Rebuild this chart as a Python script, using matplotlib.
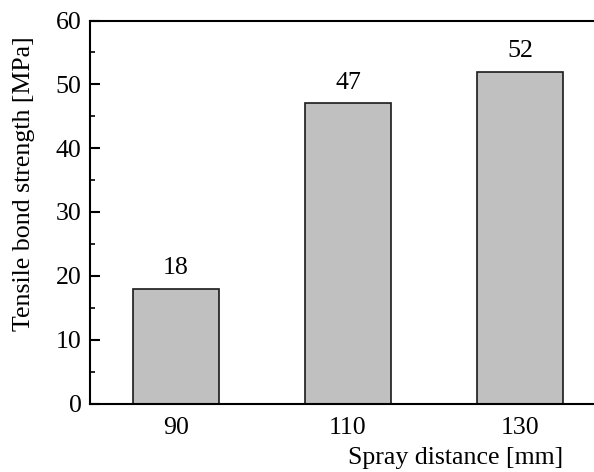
import matplotlib.pyplot as plt
from matplotlib.ticker import MultipleLocator

plt.rcParams.update({
    "font.family": ["Liberation Serif", "DejaVu Serif"],
    "font.size": 18.6,
    "axes.linewidth": 1.5,
})

# data
distance = [90, 110, 130]
strength = [18, 47, 52]

fig = plt.figure(figsize=(5.94, 4.72), dpi=100)
# right edge of the axes lies just outside the canvas, as in the original
ax = fig.add_axes([90 / 594, 68.5 / 472, 516 / 594, 383 / 472])

ax.bar(distance, strength, width=10, color='#c0c0c0',
       edgecolor='#1a1a1a', linewidth=1.2)

for x, v in zip(distance, strength):
    ax.annotate(str(v), (x, v), xytext=(0, 10.5), textcoords='offset points',
                ha='center', va='baseline')

ax.set_xlim(80, 140)
ax.set_ylim(0, 60)
ax.set_xticks(distance)
ax.yaxis.set_major_locator(MultipleLocator(10))
ax.yaxis.set_minor_locator(MultipleLocator(5))

ax.tick_params(axis='x', length=0, pad=10)
ax.tick_params(axis='y', which='major', direction='in', length=7, width=1.5, pad=6)
ax.tick_params(axis='y', which='minor', direction='in', length=3.5, width=1.2)

ax.set_xlabel('Spray distance [mm]')
ax.xaxis.label.set_va('baseline')
ax.xaxis.set_label_coords(0.708, -0.159)

ax.set_ylabel('Tensile bond strength [MPa]')
ax.yaxis.label.set_va('center')
ax.yaxis.set_label_coords(-0.127, 0.574)

plt.savefig('out.png', dpi=100)
